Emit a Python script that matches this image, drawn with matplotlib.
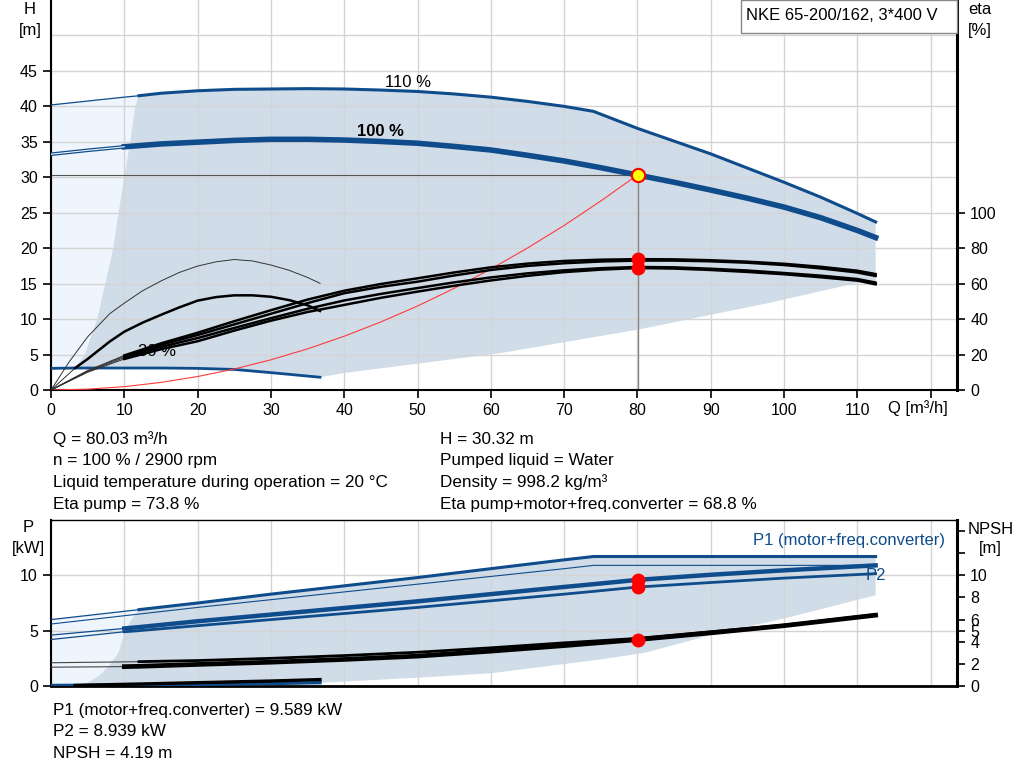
import matplotlib
matplotlib.use('Agg')
import matplotlib.pyplot as plt
from matplotlib.patches import Rectangle

plt.rcParams['font.family'] = ['Liberation Sans', 'DejaVu Sans']
plt.rcParams['font.size'] = 12

BLUE = '#0f4c8c'
SHADE = '#d0dce8'
LIGHT = '#eef5fc'
GRID = '#d4d4d4'

# ---------------- Data (top chart: H and eta vs Q) ----------------
q_110 = [0, 5, 10, 12, 15, 20, 25, 30, 35, 40, 45, 50, 55, 60, 65, 70, 74, 80, 85, 90, 95, 100, 105, 110, 112.5]
h_110 = [40.2, 40.75, 41.3, 41.5, 41.85, 42.2, 42.4, 42.45, 42.5, 42.45, 42.3, 42.1, 41.75, 41.3, 40.7,
         40.0, 39.3, 36.9, 35.1, 33.3, 31.3, 29.3, 27.2, 24.9, 23.7]

q_100 = [0, 5, 10, 15, 20, 25, 30, 35, 40, 45, 50, 55, 60, 65, 70, 75, 80, 85, 90, 95, 100, 105, 110, 112.5]
h_100 = [33.25, 33.8, 34.3, 34.7, 34.95, 35.2, 35.35, 35.35, 35.25, 35.05, 34.8, 34.35, 33.85, 33.1,
         32.3, 31.35, 30.32, 29.3, 28.2, 27.05, 25.8, 24.3, 22.5, 21.5]

q_30 = [0, 3.3, 10, 15, 20, 25, 30, 36.7]
h_30 = [3.05, 3.1, 3.1, 3.1, 3.05, 2.9, 2.45, 1.8]

q_eta = [0, 5, 10, 15, 20, 25, 30, 35, 40, 45, 50, 55, 60, 65, 70, 75, 80, 85, 90, 95, 100, 105, 110, 112.5]
eta_1 = [0, 11.0, 19.5, 26.3, 32.3, 38.8, 45.0, 51.0, 56.0, 59.8, 63.0, 66.3, 69.2, 71.3, 72.8, 73.5,
         73.8, 73.7, 73.2, 72.4, 71.2, 69.5, 67.3, 65.4]
eta_2 = [0, 10.7, 19.0, 25.5, 31.0, 37.0, 43.0, 49.0, 54.6, 58.2, 61.1, 64.6, 67.7, 70.0, 71.5, 72.5,
         73.0, 73.0, 72.6, 71.8, 70.5, 68.6, 66.3, 64.3]
eta_3 = [0, 10.3, 18.3, 24.3, 29.3, 35.0, 40.5, 45.8, 50.5, 54.2, 57.5, 60.7, 63.5, 65.8, 67.5, 68.7,
         69.4, 69.2, 68.4, 67.4, 66.0, 64.5, 62.6, 60.6]
eta_4 = [0, 10.0, 17.5, 23.0, 27.5, 33.5, 39.1, 44.0, 48.0, 52.0, 55.5, 58.8, 61.8, 64.4, 66.5, 67.9,
         68.8, 68.5, 67.7, 66.6, 65.3, 63.6, 61.7, 59.6]

q_arc = [0, 2.5, 5, 8, 10, 12.5, 15, 17.5, 20, 22.5, 25, 27.5, 30, 32.5, 35, 36.7]
eta_arc_thin = [0, 16, 30, 43, 49, 56, 61.5, 66.3, 69.9, 72.3, 73.6, 72.8, 70.5, 67.5, 63.5, 60.2]
q_arc_k = [0, 3.3, 5, 8, 10, 12.5, 15, 17.5, 20, 22.5, 25, 27.5, 30, 32.5, 35, 36.7]
eta_arc_thick = [0, 12.4, 17.5, 27.3, 32.9, 38.0, 42.4, 46.6, 50.4, 52.4, 53.4, 53.4, 52.6, 50.7, 47.8, 44.6]

q_sys = [0, 5, 10, 15, 20, 25, 30, 35, 40, 45, 50, 55, 60, 65, 70, 75, 80]
h_sys = [0, 0.12, 0.47, 1.07, 1.9, 2.96, 4.26, 5.8, 7.58, 9.6, 11.84, 14.33, 17.06, 20.02, 23.2, 26.65, 30.32]

q_low = [112.5, 110, 97.6, 90, 80, 61.3, 40, 36.7]
h_low = [15.3, 15.1, 12.2, 10.6, 8.5, 5.2, 2.4, 1.8]
q_min = [3.3, 4.6, 6.3, 7.4, 8.5, 9.2, 10.0, 10.8, 11.5, 12.0]
h_min = [3.1, 5, 10, 15, 20, 25, 30, 35, 40, 41.5]

q_op, h_op = 80.03, 30.32
eta_op = [73.8, 68.8]

# ---------------- Data (bottom chart: P and NPSH vs Q) ----------------
q_p = [0, 10, 12, 20, 30, 40, 50, 60, 70, 74, 80, 90, 100, 112.5]
p1_110 = [6.0, 6.75, 6.9, 7.5, 8.3, 9.05, 9.8, 10.6, 11.4, 11.7, 11.7, 11.7, 11.7, 11.7]
p2_110 = [5.6, 6.35, 6.5, 7.1, 7.8, 8.5, 9.2, 9.9, 10.6, 10.9, 10.9, 10.9, 10.9, 10.9]
p1_100 = [4.6, 5.2, 5.32, 5.85, 6.45, 7.05, 7.65, 8.3, 8.95, 9.2, 9.589, 10.05, 10.45, 10.9]
p2_100 = [4.2, 4.9, 5.0, 5.45, 6.0, 6.55, 7.1, 7.7, 8.3, 8.55, 8.939, 9.35, 9.75, 10.15]

q_np = [0, 10, 12, 20, 30, 40, 50, 60, 70, 80, 90, 100, 112.5]
npsh_a = [2.1, 2.18, 2.2, 2.3, 2.5, 2.75, 3.05, 3.45, 3.9, 4.3, 4.9, 5.5, 6.45]
npsh_b = [1.7, 1.75, 1.78, 1.95, 2.15, 2.4, 2.7, 3.15, 3.65, 4.19, 4.8, 5.45, 6.4]

q_p30 = [0, 3.5, 10, 20, 30, 36.7]
p_p30_blue = [0.05, 0.06, 0.1, 0.15, 0.22, 0.3]
q_p30k = [3.3, 10, 20, 30, 36.7]
p_p30_black = [0.05, 0.15, 0.3, 0.45, 0.58]

q_plow = [112.5, 100, 90, 81, 75, 60, 50, 37]
p_plow = [8.2, 6.1, 4.6, 3.0, 2.4, 1.15, 0.75, 0.3]
q_pmin = [3.5, 5, 6.7, 8, 9.2, 10.1, 11, 12]
p_pmin = [0.05, 0.3, 1.0, 1.9, 3.0, 5.0, 6.0, 6.9]

p_op = [9.589, 8.939]
npsh_op = 4.19

x_ticks = [0, 10, 20, 30, 40, 50, 60, 70, 80, 90, 100, 110, 120]
x_labels = ['0', '10', '20', '30', '40', '50', '60', '70', '80', '90', '100', '110', '']
h_ticks = [0, 5, 10, 15, 20, 25, 30, 35, 40, 45]
eta_ticks = [0, 20, 40, 60, 80, 100]
p_ticks = [0, 5, 10]
npsh_ticks = [0, 2, 4, 5, 6, 8, 10, 12, 14]
npsh_labels = ['0', '2', '4', '5', '6', '8', '10', '', '']

TICK_FS = 11.5
INFO_FS = 12.3

W, H = 1024, 781
fig = plt.figure(figsize=(W / 100, H / 100), dpi=100)


def fx(x):
    return x / W


def fy(y):
    return 1 - y / H


ax_l, ax_r = 51, 957
ax = fig.add_axes([fx(ax_l), fy(390), fx(ax_r - ax_l), 390 / H])
axb = fig.add_axes([fx(ax_l), fy(686), fx(ax_r - ax_l), (686 - 520) / H])

XMAX = (ax_r - ax_l) / 7.33

# ---------------- Top chart ----------------
ax.set_xlim(0, XMAX)
ax.set_ylim(0, 55)
ax.set_xticks(x_ticks)
ax.set_xticklabels(x_labels)
ax.set_yticks(h_ticks)
ax.grid(True, color=GRID, lw=1.0)
ax.axhline(50, color=GRID, lw=1.0, zorder=1.5)
for s in ['top', 'right']:
    ax.spines[s].set_visible(False)
ax.spines['left'].set_linewidth(1.5)
ax.spines['bottom'].set_linewidth(1.5)
ax.tick_params(direction='out', length=6, width=1.2, colors='black', labelsize=TICK_FS)

# shaded regions
light_q = [0, 0] + q_110[1:4] + q_min[::-1] + [0]
light_h = [3.05, 40.2] + h_110[1:4] + h_min[::-1] + [3.05]
ax.fill(light_q, light_h, color=LIGHT, lw=0, zorder=1)
shade_q = q_110[3:] + q_low + q_30[::-1][:-1] + q_min
shade_h = h_110[3:] + h_low + h_30[::-1][:-1] + h_min
ax.fill(shade_q, shade_h, color=SHADE, lw=0, zorder=1)

# QH curves
ax.plot(q_110[:4], h_110[:4], color=BLUE, lw=0.9, zorder=3)
ax.plot(q_110[3:], h_110[3:], color=BLUE, lw=2.2, zorder=3)
ax.plot(q_100[:3], h_100[:3], color=BLUE, lw=2.6, zorder=3)
ax.plot(q_100[:3], h_100[:3], color=LIGHT, lw=0.8, zorder=3.1)
ax.plot(q_100[2:], h_100[2:], color=BLUE, lw=4.0, zorder=3)
ax.plot(q_30, h_30, color=BLUE, lw=2.0, zorder=3)

# system curve and operating lines
ax.plot(q_sys, h_sys, color='#ff3b3b', lw=0.8, zorder=3)
ax.plot([0, q_op], [h_op, h_op], color='#555555', lw=0.8, zorder=2.5)
ax.plot([q_op, q_op], [0, h_op], color='#888888', lw=1.0, zorder=2.5)
ax.plot([q_op], [h_op], 'o', ms=9.5, mfc='#ffff00', mec='#ff0000', mew=1.5, zorder=6)

ax.text(48.7, 43.3, '110 %', ha='center', va='center', fontsize=12, zorder=4)
ax.text(45.0, 36.4, '100 %', ha='center', va='center', fontsize=12, fontweight='bold', zorder=4)
ax.text(14.5, 5.4, '30 %', ha='center', va='center', fontsize=12, zorder=2.6)

# eta axis
axe = ax.twinx()
axe.set_ylim(0, 220)
axe.set_xlim(0, XMAX)
axe.set_yticks(eta_ticks)
for s in ['top', 'left', 'bottom']:
    axe.spines[s].set_visible(False)
axe.spines['right'].set_linewidth(2.2)
axe.tick_params(direction='out', length=6, width=1.2, labelsize=TICK_FS)
for e in [eta_1, eta_2, eta_3, eta_4]:
    axe.plot(q_eta[:3], e[:3], color='#333333', lw=0.7, zorder=3)
    axe.plot(q_eta[2:], e[2:], color='black', lw=1.8, zorder=3)
axe.plot(q_arc, eta_arc_thin, color='#333333', lw=0.7, zorder=3)
axe.plot(q_arc_k[:2], eta_arc_thick[:2], color='#333333', lw=0.7, zorder=3)
axe.plot(q_arc_k[1:], eta_arc_thick[1:], color='black', lw=1.8, zorder=3)
axe.plot([q_op] * 2, eta_op, 'o', ms=9, color='#ff0000', mec='#ff0000', zorder=6)

# ---------------- Bottom chart ----------------
axb.set_xlim(0, XMAX)
axb.set_ylim(0, 15)
axb.set_xticks(x_ticks)
axb.set_yticks(p_ticks)
axb.tick_params(axis='x', length=0, labelbottom=False)
axb.tick_params(axis='y', direction='out', length=6, width=1.2, labelsize=TICK_FS)
axb.grid(True, color=GRID, lw=1.0)
axb.spines['right'].set_visible(False)
axb.spines['top'].set_linewidth(1.0)
axb.spines['left'].set_linewidth(1.5)
axb.spines['bottom'].set_linewidth(2.0)

lq = [0, 0] + q_p[1:3] + q_pmin[::-1] + [0]
lp = [0, 6.0] + p1_110[1:3] + p_pmin[::-1] + [0]
axb.fill(lq, lp, color=LIGHT, lw=0, zorder=1)
sq = q_p[2:] + q_plow + q_p30[::-1][:-1] + q_pmin
sp = p1_110[2:] + p_plow + p_p30_blue[::-1][:-1] + p_pmin
axb.fill(sq, sp, color=SHADE, lw=0, zorder=1)

axb.plot(q_p[:3], p1_110[:3], color=BLUE, lw=0.9, zorder=3)
axb.plot(q_p[2:], p1_110[2:], color=BLUE, lw=2.2, zorder=3)
axb.plot(q_p, p2_110, color=BLUE, lw=0.8, zorder=3)
axb.plot(q_p[:2], p1_100[:2], color=BLUE, lw=0.9, zorder=3)
axb.plot(q_p[1:], p1_100[1:], color=BLUE, lw=3.2, zorder=3)
axb.plot(q_p[:2], p2_100[:2], color=BLUE, lw=0.9, zorder=3)
axb.plot(q_p[1:], p2_100[1:], color=BLUE, lw=2.0, zorder=3)
axb.plot(q_p30, p_p30_blue, color=BLUE, lw=2.4, zorder=3)
axb.plot([q_op] * 2, p_op, 'o', ms=9, color='#ff0000', zorder=6)

axb.text(108.9, 13.15, 'P1 (motor+freq.converter)', color=BLUE, ha='center', va='center', fontsize=12, zorder=4)
axb.text(112.6, 10.0, 'P2', color=BLUE, ha='center', va='center', fontsize=12, zorder=4)

axn = axb.twinx()
axn.set_ylim(0, 15)
axn.set_xlim(0, XMAX)
axn.set_yticks(npsh_ticks)
axn.set_yticklabels(npsh_labels)
for s in ['top', 'left', 'bottom']:
    axn.spines[s].set_visible(False)
axn.spines['right'].set_linewidth(2.2)
axn.tick_params(direction='out', length=6, width=1.2, labelsize=TICK_FS)
axn.plot(q_np[:3], npsh_a[:3], color='#444444', lw=0.8, zorder=3)
axn.plot(q_np[2:], npsh_a[2:], color='black', lw=2.0, zorder=3)
axn.plot(q_np[:2], npsh_b[:2], color='#444444', lw=0.8, zorder=3)
axn.plot(q_np[1:], npsh_b[1:], color='black', lw=3.4, zorder=3)
axn.plot(q_p30k, p_p30_black, color='black', lw=2.4, zorder=3)
axn.plot([q_op], [npsh_op], 'o', ms=9, color='#ff0000', zorder=6)

# ---------------- Texts ----------------
fig.text(fx(30), fy(10), 'H', ha='center', va='center', fontsize=12)
fig.text(fx(30), fy(30), '[m]', ha='center', va='center', fontsize=12)
fig.text(fx(980), fy(10), 'eta', ha='center', va='center', fontsize=12)
fig.text(fx(980), fy(30), '[%]', ha='center', va='center', fontsize=12)
fig.text(fx(918), fy(408), 'Q [m³/h]', ha='center', va='center', fontsize=12)
fig.text(fx(28), fy(528), 'P', ha='center', va='center', fontsize=12)
fig.text(fx(28), fy(549), '[kW]', ha='center', va='center', fontsize=12)
fig.text(fx(991), fy(529), 'NPSH', ha='center', va='center', fontsize=12)
fig.text(fx(990), fy(549), '[m]', ha='center', va='center', fontsize=12)

box = Rectangle((fx(741), fy(33)), fx(957 - 741), 33 / H, transform=fig.transFigure,
                facecolor='white', edgecolor='#888888', lw=1.0, zorder=10)
fig.add_artist(box)
fig.text(fx(746), fy(15), 'NKE 65-200/162, 3*400 V', ha='left', va='center', fontsize=12, zorder=11)

info_left = ['Q = 80.03 m³/h', 'n = 100 % / 2900 rpm',
             'Liquid temperature during operation = 20 °C', 'Eta pump = 73.8 %']
info_right = ['H = 30.32 m', 'Pumped liquid = Water', 'Density = 998.2 kg/m³',
              'Eta pump+motor+freq.converter = 68.8 %']
info_bottom = ['P1 (motor+freq.converter) = 9.589 kW', 'P2 = 8.939 kW', 'NPSH = 4.19 m']
for i, t in enumerate(info_left):
    fig.text(fx(53), fy(439 + 21.7 * i), t, ha='left', va='center', fontsize=INFO_FS)
for i, t in enumerate(info_right):
    fig.text(fx(440), fy(439 + 21.7 * i), t, ha='left', va='center', fontsize=INFO_FS)
for i, t in enumerate(info_bottom):
    fig.text(fx(53), fy(711 + 21 * i), t, ha='left', va='center', fontsize=INFO_FS)

fig.savefig('out.png', dpi=100)
